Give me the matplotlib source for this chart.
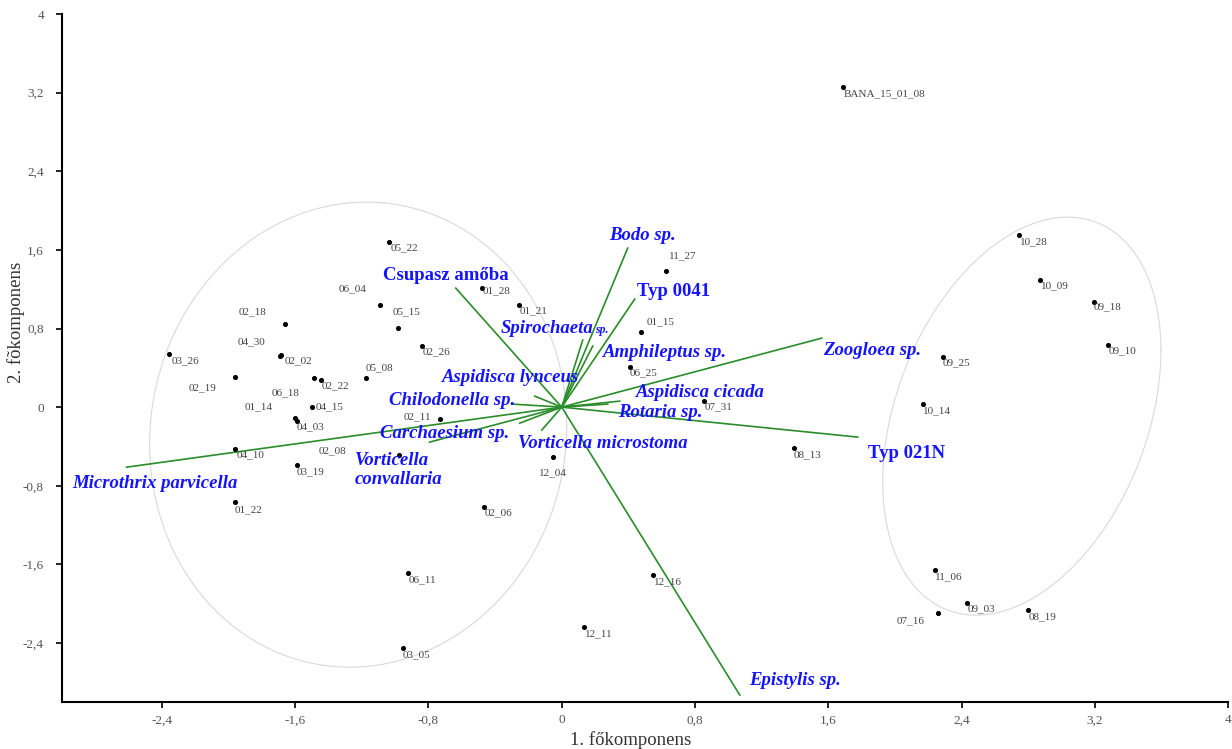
import numpy as np
import matplotlib
matplotlib.use("Agg")
import matplotlib.pyplot as plt

plt.rcParams['font.family'] = ['Liberation Serif', 'DejaVu Serif']

# sample scores on the first two principal components
samples = ["BANA_15_01_08", "10_28", "10_09", "09_18", "09_10", "09_25", "10_14",
           "11_06", "09_03", "07_16", "08_19", "08_13", "07_31", "06_25", "01_15",
           "11_27", "01_28", "01_21", "05_22", "06_04", "05_15", "02_26", "05_08",
           "02_22", "06_18", "02_02", "04_30", "02_18", "03_26", "02_19", "04_15",
           "04_03", "01_14", "04_10", "03_19", "01_22", "02_08", "02_11", "12_04",
           "02_06", "06_11", "03_05", "12_16", "12_11"]
pc1 = [1.687, 2.744, 2.870, 3.194, 3.278, 2.287, 2.167,
       2.240, 2.432, 2.258, 2.798, 1.393, 0.853, 0.408, 0.474,
       0.624, -0.480, -0.258, -1.039, -1.093, -0.985, -0.841, -1.177,
       -1.447, -1.489, -1.687, -1.693, -1.663, -2.360, -1.963, -1.501,
       -1.591, -1.603, -1.963, -1.591, -1.963, -0.979, -0.733, -0.054,
       -0.468, -0.925, -0.955, 0.546, 0.132]
pc2 = [3.256, 1.750, 1.292, 1.068, 0.631, 0.509, 0.031,
       -1.659, -1.994, -2.096, -2.066, -0.417, 0.061, 0.407, 0.763,
       1.384, 1.211, 1.038, 1.679, 1.038, 0.804, 0.621, 0.295,
       0.275, 0.295, 0.529, 0.519, 0.845, 0.539, 0.305, 0.000,
       -0.142, -0.112, -0.427, -0.590, -0.967, -0.488, -0.122, -0.509,
       -1.017, -1.689, -2.452, -1.709, -2.238]

# label offsets (pixels) so the sample names do not collide
label_dx = [42, 15, 15, 14, 15, 14, 14, 14, 15, -27, 15, 14, 15, 14, 20,
            17, 15, 15, 16, -27, 9, 15, 14, 15, -28, 18, -28, -32, 17, -32,
            18, 14, -36, 16, 14, 14, -66, -22, 0, 15, 15, 14, 15, 15]
label_dy = [-7, -7, -6, -5, -6, -6, -7, -7, -6, -8, -7, -7, -6, -6, 10,
            15, -3, -6, -6, 16, 16, -6, 10, -6, -15, -6, 14, 12, -7, -11,
            0, -6, 11, -6, -7, -8, 4, 2, -16, -6, -7, -7, -7, -7]

# variable loadings
species = ["Bodo sp.", "Typ 0041", "Csupasz amőba", "Spirochaeta", "Amphileptus sp.",
           "Aspidisca lynceus", "Aspidisca cicada", "Chilodonella sp.", "Rotaria sp.",
           "Carchaesium sp.", "Vorticella microstoma", "Vorticella\nconvallaria",
           "Microthrix parvicella", "Zoogloea sp.", "Typ 021N", "Epistylis sp."]
load1 = [0.396, 0.438, -0.636, 0.126, 0.186, -0.162, 0.348, -0.300, 0.276,
         -0.793, -0.120, -0.252, -2.612, 1.561, 1.777, 1.069]
load2 = [1.618, 1.099, 1.211, 0.682, 0.621, 0.112, 0.061, 0.031, 0.031,
         -0.356, -0.234, -0.163, -0.611, 0.702, -0.305, -2.930]
# where each species name sits (left edge, middle)
name_x = [0.282, 0.450, -1.075, -0.366, 0.246, -0.720, 0.444, -1.039, 0.336,
          -1.093, -0.264, -1.243, -2.936, 1.567, 1.837, 1.123]
name_y = [1.750, 1.180, 1.343, 0.804, 0.560, 0.305, 0.153, 0.071, -0.051,
          -0.265, -0.366, -0.641, -0.773, 0.580, -0.468, -2.778]
upright = {"Typ 0041", "Typ 021N", "Csupasz amőba"}

# group ellipses: centre, half extents and correlation
ell_cx = [-1.222, 2.762]
ell_cy = [-0.280, -0.092]
ell_sx = [1.252, 0.835]
ell_sy = [2.366, 2.025]
ell_r = [0.04, 0.33]

fig = plt.figure(figsize=(12.32, 7.49), dpi=100)
ax = fig.add_axes([0.0503, 0.0628, 0.9465, 0.9185])

t = np.linspace(0, 2 * np.pi, 300)
for cx, cy, sx, sy, r in zip(ell_cx, ell_cy, ell_sx, ell_sy, ell_r):
    ex = cx + sx * np.cos(t)
    ey = cy + sy * (r * np.cos(t) + np.sqrt(1 - r ** 2) * np.sin(t))
    ax.plot(ex, ey, color='#d9d9d9', lw=0.8, zorder=1)

for lx, ly in zip(load1, load2):
    ax.plot([0, lx], [0, ly], color='#2a8c2a', lw=1.2, zorder=2)

ax.scatter(pc1, pc2, s=7, color='black', zorder=3)
for name, x, y, dx, dy in zip(samples, pc1, pc2, label_dx, label_dy):
    ax.annotate(name, (x, y), xytext=(dx, dy), textcoords='offset pixels',
                ha='center', va='center', fontsize=8, color='#444444')

for name, x, y in zip(species, name_x, name_y):
    style = 'normal' if name in upright else 'italic'
    ax.text(x, y, name, ha='left', va='center', fontsize=13.5, fontweight='bold',
            fontstyle=style, color='#1414ff', linespacing=1.2, zorder=4)
# the small "sp." after Spirochaeta
ax.annotate("sp.", (name_x[3], name_y[3]), xytext=(94, -2), textcoords='offset pixels',
            ha='left', va='center', fontsize=8.5, fontweight='bold',
            fontstyle='italic', color='#1414ff')

ax.set_xlim(-3.0, 4.0)
ax.set_ylim(-3.0, 4.0)
ticks = np.arange(-2.4, 4.01, 0.8)
ax.set_xticks(ticks)
ax.set_yticks(ticks)


def comma(v):
    s = f"{v:.1f}".replace('.', ',')
    return s[:-2] if s.endswith(',0') else s


ax.set_xticklabels([comma(v) for v in ticks])
ax.set_yticklabels([comma(v) for v in ticks])
ax.tick_params(direction='out', length=4, width=1.2, labelsize=9.5,
               labelcolor='#555555')
ax.tick_params(axis='x', pad=5)
ax.tick_params(axis='y', pad=9)
for side in ['top', 'right']:
    ax.spines[side].set_visible(False)
for side in ['left', 'bottom']:
    ax.spines[side].set_linewidth(1.5)

fig.text(0.512, 0.0, "1. főkomponens", ha='center', va='bottom', fontsize=13.5,
         color='#333333')
fig.text(0.013, 0.57, "2. fõkomponens", ha='center', va='center', rotation=90,
         fontsize=13.5, color='#333333')

fig.savefig("out.png", dpi=100)
